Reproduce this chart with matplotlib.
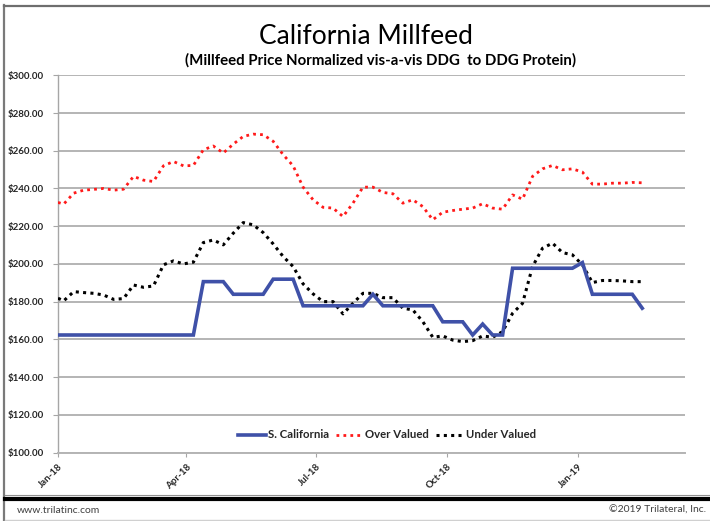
import matplotlib
matplotlib.use("Agg")
import matplotlib.pyplot as plt
import matplotlib.dates as mdates
from matplotlib.lines import Line2D
import numpy as np
import datetime as dt

plt.rcParams['font.family'] = ['Lato', 'DejaVu Sans']

# ---- data ----
start = dt.date(2018, 1, 1)
first_friday = dt.date(2018, 1, 5)
dates = [start] + [first_friday + dt.timedelta(days=7 * i) for i in range(59)]

s_california = ([162.3] * 15 + [190.6] * 3 + [183.9] * 4 + [191.9] * 3 +
                [177.8] * 7 + [183.9] + [177.8] * 6 + [169.3] * 3 +
                [162.3, 168.1, 162.3, 162.3] + [197.7] * 7 + [200.7] +
                [183.9] * 5 + [176.5])

over_valued = [232.6, 231.7, 237.5, 239.1, 239.5, 240.0, 239.1, 239.6, 246.4, 244.4,
               243.7, 252.0, 254.3, 252.0, 252.2, 260.5, 262.5, 258.8, 263.5, 267.6,
               268.8, 268.5, 265.0, 257.9, 252.0, 240.7, 234.0, 230.0, 229.6, 225.1,
               232.2, 240.7, 240.7, 237.9, 237.2, 232.2, 234.0, 230.4, 223.4, 227.4,
               228.3, 229.0, 229.6, 231.9, 229.6, 229.0, 236.6, 234.3, 246.4, 250.4,
               252.2, 249.9, 250.4, 248.7, 242.3, 242.3, 242.8, 242.8, 243.2, 243.0]

under_valued = [181.8, 180.4, 185.3, 184.8, 184.4, 183.5, 181.2, 181.6, 188.8, 187.6,
                188.3, 199.5, 201.6, 200.0, 200.9, 211.3, 212.7, 210.1, 216.3, 221.9,
                220.7, 216.6, 210.6, 203.9, 198.6, 189.4, 184.1, 180.0, 180.0, 173.5,
                179.1, 184.4, 184.4, 182.1, 182.1, 176.5, 175.6, 169.4, 161.1, 161.8,
                159.6, 158.8, 159.3, 161.8, 161.1, 164.1, 173.8, 179.1, 198.6, 208.3,
                211.0, 206.0, 204.8, 199.5, 190.1, 191.2, 191.2, 191.0, 190.6, 190.6]

series_names = ["S. California", "Over Valued", "Under Valued"]
tick_dates = [dt.date(2018, 1, 1), dt.date(2018, 4, 1), dt.date(2018, 7, 1),
              dt.date(2018, 10, 1), dt.date(2019, 1, 1)]
y_ticks = [100, 120, 140, 160, 180, 200, 220, 240, 260, 280, 300]

title = "California Millfeed"
subtitle = "(Millfeed Price Normalized vis-a-vis DDG  to DDG Protein)"

# ---- figure ----
W, H = 710, 521
fig = plt.figure(figsize=(W / 100, H / 100), dpi=100)
fig.patch.set_facecolor("white")

def fx(px):
    return px / W

def fy(py):
    return 1 - py / H

ax = fig.add_axes([fx(58), fy(452.5), fx(685) - fx(58), fy(75.3) - fy(452.5)])

grid_c = "#b4b4b4"
ax.plot(dates, s_california, color="#3f51a8", lw=2.6, label=series_names[0],
        solid_joinstyle="miter", zorder=4)
ax.plot(dates, over_valued, color="#ff1a1a", lw=2.0, linestyle=(0, (1, 1.5)),
        label=series_names[1], zorder=3)
ax.plot(dates, under_valued, color="#000000", lw=2.2, linestyle=(0, (1, 1.4)),
        label=series_names[2], zorder=3)

ax.set_ylim(100, 300)
ax.set_yticks(y_ticks)
ax.yaxis.set_major_formatter(matplotlib.ticker.FuncFormatter(lambda v, p: f"${v:.2f}"))
ax.set_xlim(dt.date(2018, 1, 1), dt.date(2019, 3, 17))
ax.set_xticks(tick_dates)
ax.xaxis.set_major_formatter(mdates.DateFormatter("%b-%y"))

ax.grid(axis="y", color=grid_c, lw=1.4, zorder=0)
ax.set_axisbelow(True)
for s in ["top", "right"]:
    ax.spines[s].set_visible(False)
ax.spines["left"].set_color("#a6a6a6")
ax.spines["left"].set_linewidth(1.0)
ax.spines["bottom"].set_color(grid_c)
ax.spines["bottom"].set_linewidth(1.4)

ax.tick_params(axis="y", length=3.6, width=0.8, color="#a6a6a6", pad=6.5,
               labelsize=7.0, labelcolor="#262626")
ax.tick_params(axis="x", length=3.0, width=0.8, color="#a6a6a6", pad=4,
               labelsize=7.0, labelcolor="#262626")
for lab in ax.get_yticklabels():
    lab.set_fontweight("bold")
for lab in ax.get_xticklabels():
    lab.set_fontweight("bold")
    lab.set_rotation(45)
    lab.set_ha("right")
    lab.set_va("top")
    lab.set_rotation_mode("anchor")

leg = fig.legend(loc="center", bbox_to_anchor=(fx(387), fy(435)), ncol=3, frameon=False,
                 handlelength=2.4, columnspacing=0.6, handletextpad=0.2,
                 prop={"weight": "bold", "size": 8.2})
for t in leg.get_texts():
    t.set_color("#262626")

fig.text(fx(366), fy(37), title, ha="center", va="center", fontsize=19, color="#000000")
fig.text(fx(381), fy(60), subtitle, ha="center", va="center", fontsize=10.8,
         fontweight="bold", color="#000000")

# borders
fig.add_artist(Line2D([fx(4), fx(4)], [fy(5), fy(521)], color="#7a7a7a", lw=1.6))
fig.add_artist(Line2D([fx(3.5), fx(710)], [fy(5.5), fy(5.5)], color="#6e6e6e", lw=1.6))
fig.add_artist(Line2D([fx(5), fx(710)], [fy(495.3), fy(495.3)], color="#909090", lw=0.8))
fig.add_artist(Line2D([fx(5), fx(710)], [fy(498.7), fy(498.7)], color="#000000", lw=3.0))
fig.add_artist(Line2D([fx(5), fx(710)], [fy(520), fy(520)], color="#d0d0d0", lw=1.0))

fig.text(fx(17), fy(510.5), "www.trilatinc.com", ha="left", va="center", fontsize=7.5,
         color="#404040")
fig.text(fx(706), fy(510.5), "\u00a92019 Trilateral, Inc.", ha="right", va="center",
         fontsize=7.5, color="#404040")

fig.savefig("out.png", dpi=100)
